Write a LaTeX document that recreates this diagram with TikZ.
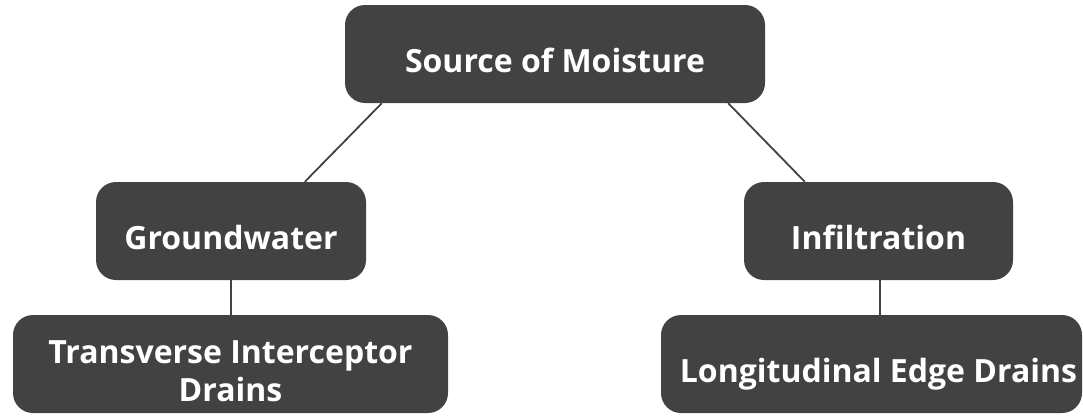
\documentclass[tikz,border=0pt]{standalone}
\usepackage{fontspec}
\setmainfont{Open Sans}
\begin{document}
\begin{tikzpicture}[x=1pt,y=-1pt,
  box/.style={draw=none,fill=boxgray,rounded corners=20pt,text=white,
    font=\fontsize{32}{38}\selectfont\bfseries,align=center,inner sep=0pt,
    minimum height=98pt,text height=40pt,text depth=4pt},
  twoline/.style={text height=78pt,text depth=4pt},
  link/.style={draw=boxgray,line width=1.8pt}]
\definecolor{boxgray}{HTML}{424242}
\useasboundingbox (0,0) rectangle (1083,415);
\node[box,minimum width=420pt] (src) at (555,54) {Source of Moisture};
\node[box,minimum width=270pt] (gw) at (231,231) {Groundwater};
\node[box,minimum width=269pt] (inf) at (878.5,231) {Infiltration};
\node[box,twoline,minimum width=435pt] (tid) at (230.5,364) {Transverse Interceptor\\Drains};
\node[box,minimum width=421pt] (led) at (871.5,364) {\hspace*{14pt}Longitudinal Edge Drains};
\draw[link] ([xshift=37pt]src.south west) -- ([xshift=209pt]gw.north west);
\draw[link] ([xshift=-37pt]src.south east) -- ([xshift=61pt]inf.north west);
\draw[link] (gw.south) -- (gw.south |- tid.north);
\draw[link] ([xshift=136pt]inf.south west) -- ([xshift=136pt]inf.south west |- led.north);
\end{tikzpicture}
\end{document}
